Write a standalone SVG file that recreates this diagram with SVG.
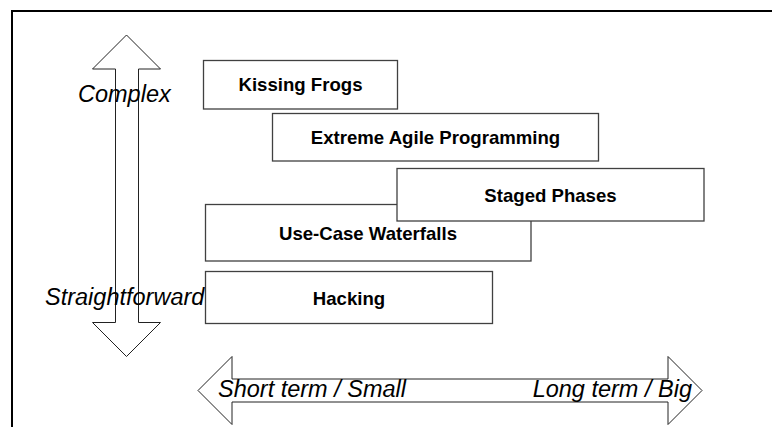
<svg xmlns="http://www.w3.org/2000/svg" width="772" height="427" viewBox="0 0 772 427">
  <style>
    .frame { fill: none; stroke: #000; stroke-width: 2; }
    .arrow { fill: #fff; stroke: #222; stroke-width: 1; }
    .axis { font-family: "Liberation Sans", Arial, sans-serif; font-style: italic; font-size: 23.5px; fill: #000; }
    .box rect { fill: #fff; stroke: #404040; stroke-width: 1.3; }
    .box text { font-family: "Liberation Sans", Arial, sans-serif; font-weight: bold; font-size: 18.6px; fill: #000; text-anchor: middle; }
  </style>
  <rect width="772" height="427" fill="#fff"/>
  <!-- page frame: top and left edges only -->
  <path class="frame" d="M12,427 V11 H772"/>

  <g id="connectors">
    <!-- complexity axis (vertical double arrow) -->
    <polygon class="arrow" points="126.5,35 92.5,69 115.5,69 115.5,322.5 92.5,322.5 126.5,356.5 160.5,322.5 138.5,322.5 138.5,69 160.5,69"/>
    <!-- size / term axis (horizontal double arrow) -->
    <polygon class="arrow" points="198,390.5 232,356.5 232,379 668,379 668,356.5 702,390.5 668,424.5 668,402 232,402 232,424.5"/>
  </g>

  <g id="axis-labels">
    <text class="axis" x="78" y="102">Complex</text>
    <text class="axis" x="45" y="305">Straightforward</text>
    <text class="axis" x="218" y="397">Short term / Small</text>
    <text class="axis" x="692" y="397" text-anchor="end">Long term / Big</text>
  </g>

  <g id="kissing-frogs" class="box">
    <rect x="203.5" y="60.5" width="194" height="48.5"/>
    <text x="300.5" y="91">Kissing Frogs</text>
  </g>
  <g id="extreme-agile-programming" class="box">
    <rect x="272.5" y="113.5" width="326" height="47.5"/>
    <text x="435.5" y="143.5">Extreme Agile Programming</text>
  </g>
  <g id="use-case-waterfalls" class="box">
    <rect x="205.5" y="204.5" width="325.5" height="56.5"/>
    <text x="368" y="240">Use-Case Waterfalls</text>
  </g>
  <g id="staged-phases" class="box">
    <rect x="397" y="168.5" width="307" height="52.5"/>
    <text x="550.5" y="202">Staged Phases</text>
  </g>
  <g id="hacking" class="box">
    <rect x="205.5" y="271.5" width="287" height="52"/>
    <text x="349" y="305">Hacking</text>
  </g>
</svg>
